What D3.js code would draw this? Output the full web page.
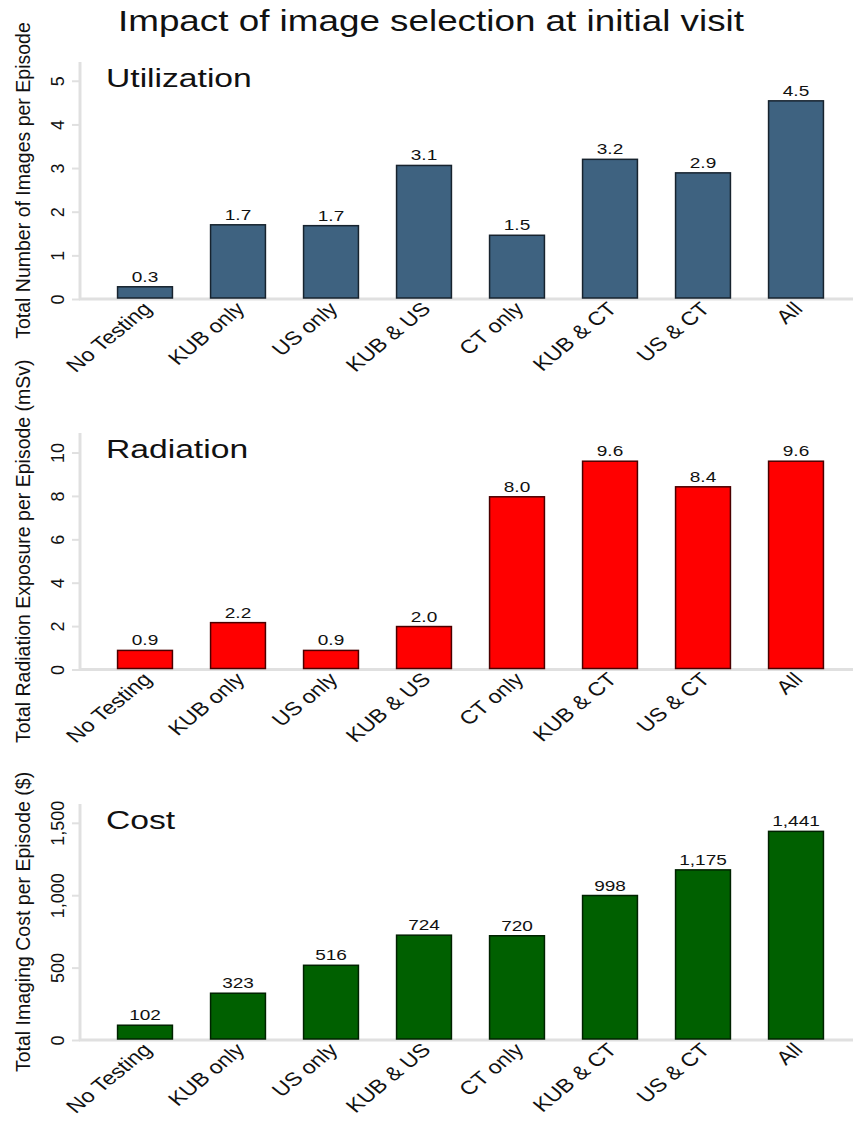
<!DOCTYPE html>
<html><head><meta charset="utf-8">
<script src="https://cdn.jsdelivr.net/npm/d3@7"></script>
<style>body{margin:0;background:#fff}svg{display:block}text{font-family:"Liberation Sans",Arial,sans-serif}</style>
</head><body>
<script>
const categories = ["No Testing","KUB only","US only","KUB & US","CT only","KUB & CT","US & CT","All"];
const utilization = [0.28,1.70,1.68,3.06,1.46,3.20,2.89,4.54];
const radiation = [0.88,2.16,0.88,1.98,7.96,9.6,8.42,9.6];
const cost = [102,323,516,724,720,998,1175,1441];
const utilTicks = [0,1,2,3,4,5];
const radTicks = [0,2,4,6,8,10];
const costTicks = [0,500,1000,1500];
const title = "Impact of image selection at initial visit";

const W=855,H=1121, SX=1.27, SXL=1.22;
const svg=d3.select("body").append("svg").attr("width",W).attr("height",H);

svg.append("text").attr("transform",`translate(431,31) scale(${SX},1)`)
  .attr("text-anchor","middle").attr("font-size",29).attr("fill","#111").text(title);

const x=d3.scaleBand().domain(categories).range([98.5,842.5]).paddingInner(0.41).paddingOuter(0.205);

const panels=[
 {name:"Utilization",vals:utilization,ticks:utilTicks,max:5.43,top:62,bottom:299,fill:"#3e6280",stroke:"#17232e",
  ylab:"Total Number of Images per Episode",fmt:d3.format(".1f"),tfmt:d3.format("d")},
 {name:"Radiation",vals:radiation,ticks:radTicks,max:10.9,top:433,bottom:669.5,fill:"#ff0000",stroke:"#4a0000",
  ylab:"Total Radiation Exposure per Episode (mSv)",fmt:d3.format(".1f"),tfmt:d3.format("d")},
 {name:"Cost",vals:cost,ticks:costTicks,max:1630,top:804,bottom:1040,fill:"#006000",stroke:"#002200",
  ylab:"Total Imaging Cost per Episode ($)",fmt:d3.format(","),tfmt:d3.format(",")}
];

panels.forEach(p=>{
  const y=d3.scaleLinear().domain([0,p.max]).range([p.bottom,p.top]);
  const g=svg.append("g");
  // y axis
  const ya=g.append("g").attr("transform","translate(80,0)")
    .call(d3.axisLeft(y).tickValues(p.ticks).tickSize(8).tickPadding(0).tickFormat(p.tfmt));
  ya.select(".domain").attr("stroke","#e0e0e0").attr("stroke-width",3).attr("d",`M0,${p.bottom}V${p.top}`);
  ya.selectAll(".tick line").attr("stroke","#e0e0e0").attr("stroke-width",2);
  ya.selectAll(".tick text").attr("font-size",18).attr("fill","#111")
    .attr("x",0).attr("dy",null).attr("text-anchor","middle")
    .attr("transform","translate(-16,0) rotate(-90)").attr("y",0);
  // x axis
  const xa=g.append("g").attr("transform",`translate(0,${p.bottom})`)
    .call(d3.axisBottom(x).tickSize(0).tickPadding(0));
  xa.select(".domain").attr("stroke","#e0e0e0").attr("stroke-width",3).attr("d",`M79,0H853`);
  xa.selectAll(".tick text").attr("font-size",19).attr("fill","#111")
    .attr("text-anchor","end").attr("dy",null).attr("y",0)
    .attr("transform",`translate(8,11) scale(${SXL},1) rotate(-45)`);
  // bars
  g.selectAll("rect.bar").data(p.vals).join("rect").attr("class","bar")
    .attr("x",(d,i)=>x(categories[i])).attr("width",x.bandwidth())
    .attr("y",d=>y(d)).attr("height",d=>y(0)-y(d)-1)
    .attr("fill",p.fill).attr("stroke",p.stroke).attr("stroke-width",1.5);
  g.selectAll("text.val").data(p.vals).join("text").attr("class","val")
    .attr("transform",(d,i)=>`translate(${x(categories[i])+x.bandwidth()/2},${y(d)-5}) scale(${SX},1)`)
    .attr("text-anchor","middle").attr("font-size",15).attr("fill","#111").text(d=>p.fmt(d));
  // panel title
  g.append("text").attr("transform",`translate(106,${p.top+25}) scale(${SX},1)`)
    .attr("font-size",26.5).attr("fill","#111").text(p.name);
  // y label
  g.append("text").attr("transform",`translate(30,${(p.top+p.bottom)/2}) rotate(-90)`)
    .attr("text-anchor","middle").attr("font-size",19.5).attr("fill","#111").text(p.ylab);
});
</script>
</body></html>
